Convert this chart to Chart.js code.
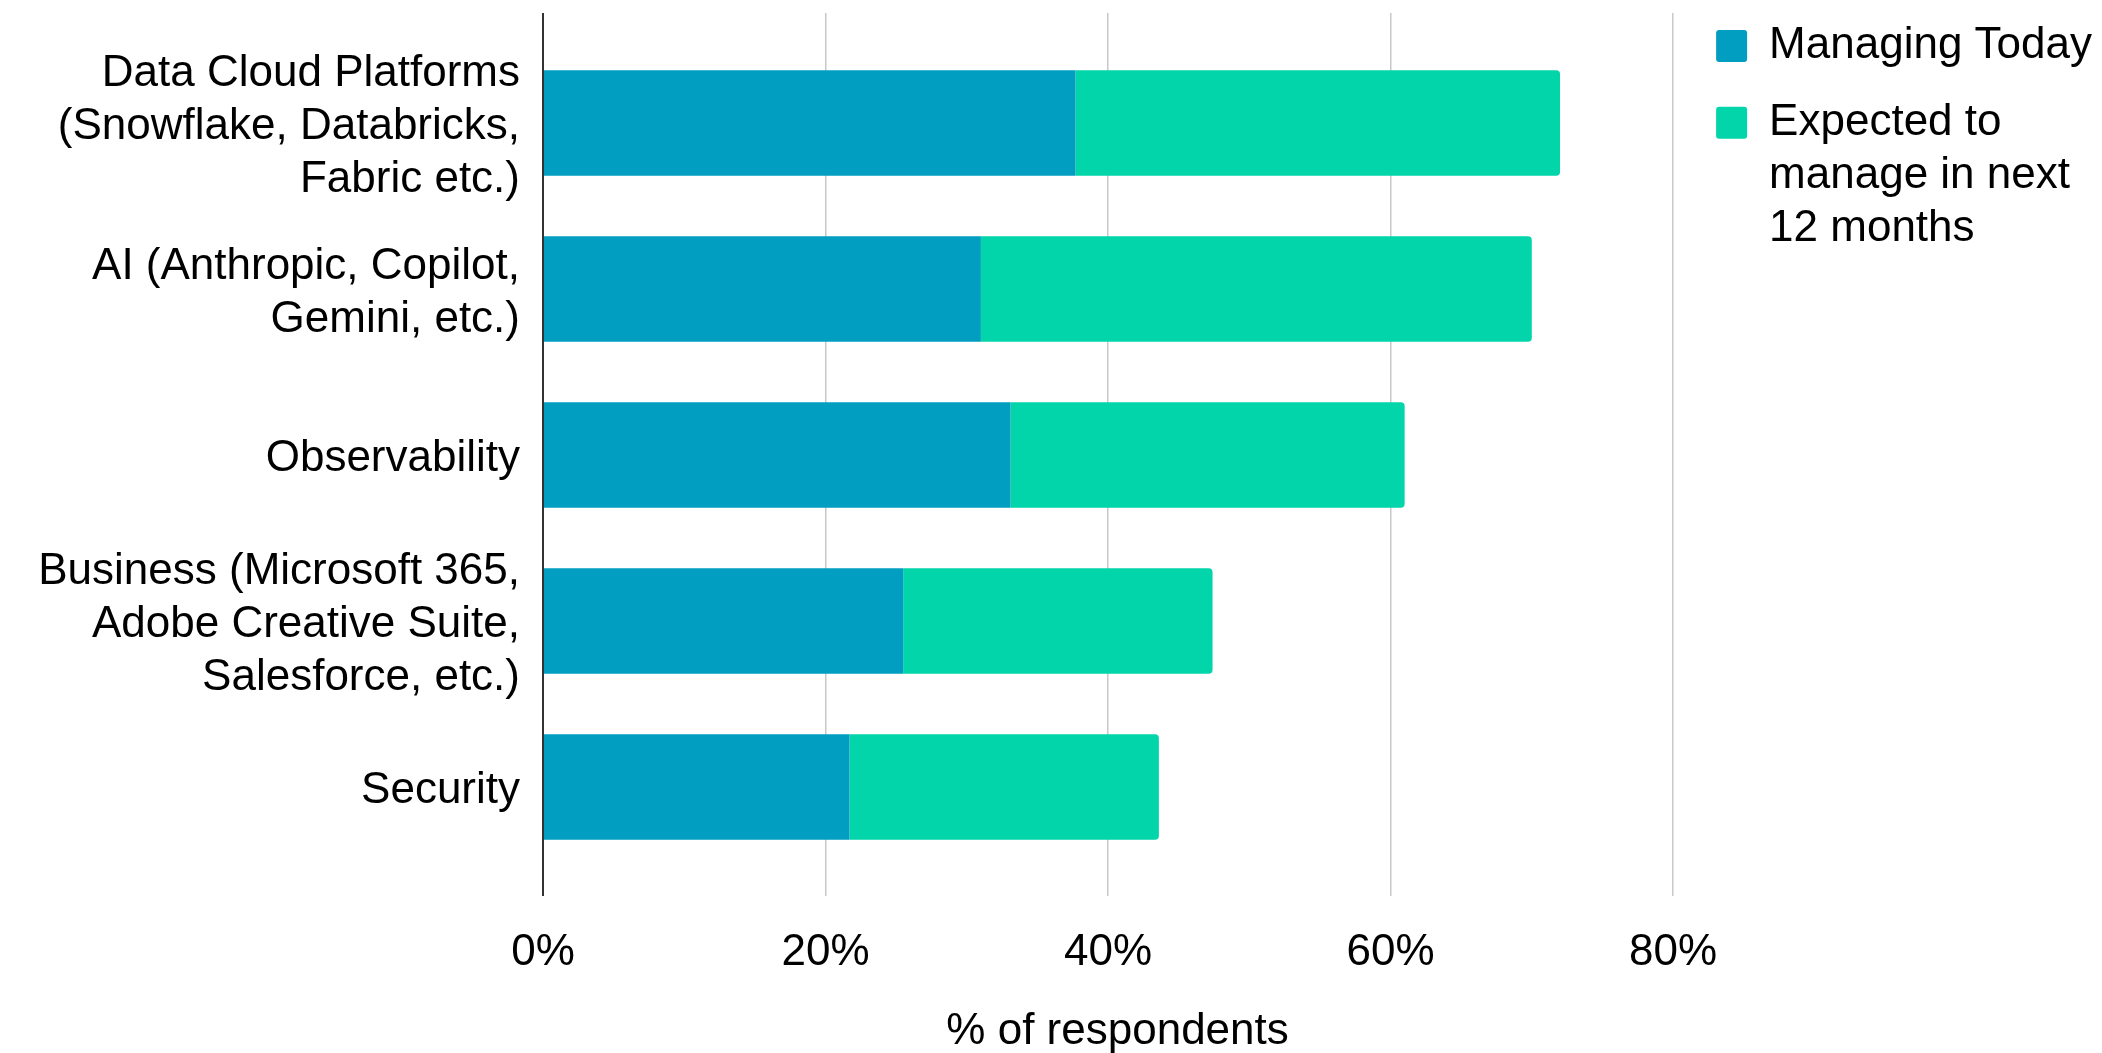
<!DOCTYPE html>
<html>
<head>
<meta charset="utf-8">
<script src="https://cdn.jsdelivr.net/npm/chart.js@4.4.1/dist/chart.umd.min.js"></script>
<style>
  html, body { margin: 0; padding: 0; background: #ffffff; }
  #wrap { width: 2102px; height: 1053px; }
</style>
</head>
<body>
<div id="wrap"><canvas id="c" width="2102" height="1053"></canvas></div>
<script>
// ---- data ----
const categories = [
  ['Data Cloud Platforms', '(Snowflake, Databricks,', 'Fabric etc.)'],
  ['AI (Anthropic, Copilot,', 'Gemini, etc.)'],
  'Observability',
  ['Business (Microsoft 365,', 'Adobe Creative Suite,', 'Salesforce, etc.)'],
  'Security'
];
const seriesNames = ['Managing Today', 'Expected to manage in next 12 months'];
const legendLines = [['Managing Today'], ['Expected to', 'manage in next', '12 months']];
const managingToday = [37.7, 31.0, 33.1, 25.5, 21.7];
const expectedNext12 = [34.3, 39.0, 27.9, 21.9, 21.9];
const xTickValues = [0, 20, 40, 60, 80];
const xAxisTitle = '% of respondents';

// ---- styles ----
const FONT = "'Liberation Sans', Arial, Helvetica, sans-serif";
const TEXT = '#000000';
const BLUE = '#029EC1';
const GREEN = '#02D5AA';
const GRID = '#c8c8c8';
const AXIS = '#333333';

const gridColor = (c) => (c.tick && c.tick.value === 0) ? AXIS : GRID;
const gridWidth = (c) => (c.tick && c.tick.value === 0) ? 2 : 1.5;

const xCommon = {
  type: 'linear',
  min: 0,
  max: 81.35
};

new Chart(document.getElementById('c'), {
  type: 'bar',
  data: {
    labels: categories,
    datasets: [
      { label: seriesNames[0], data: managingToday, backgroundColor: BLUE, borderWidth: 0, borderRadius: 4 },
      { label: seriesNames[1], data: expectedNext12, backgroundColor: GREEN, borderWidth: 0, borderRadius: 4 }
    ]
  },
  options: {
    responsive: false,
    animation: false,
    devicePixelRatio: 1,
    indexAxis: 'y',
    layout: { padding: { top: 0, left: 0, right: 0, bottom: 0 } },
    datasets: { bar: { barPercentage: 0.636, categoryPercentage: 1 } },
    scales: {
      x: {
        ...xCommon,
        position: 'bottom',
        stacked: true,
        border: { display: false },
        grid: { color: gridColor, lineWidth: gridWidth, drawTicks: true, tickLength: 26 },
        afterBuildTicks: (s) => { s.ticks = xTickValues.map(v => ({ value: v })); },
        ticks: {
          padding: 30,
          color: TEXT,
          font: { family: FONT, size: 44 },
          callback: (v) => v + '%'
        },
        title: {
          display: true,
          text: xAxisTitle,
          color: TEXT,
          font: { family: FONT, size: 44, lineHeight: 1.0 },
          padding: { top: 0, bottom: -1 }
        },
        afterFit: (s) => { s.height = 183; }
      },
      x2: {
        ...xCommon,
        position: 'top',
        afterBuildTicks: (s) => { s.ticks = xTickValues.map(v => ({ value: v })); },
        border: { display: false },
        grid: { color: gridColor, lineWidth: gridWidth, drawOnChartArea: false, drawTicks: true, tickLength: 27 },
        ticks: { display: false },
        afterFit: (s) => { s.height = 40; }
      },
      y: {
        stacked: true,
        grid: { display: false, drawTicks: true, tickLength: 20 },
        border: { display: true, color: AXIS, width: 2 },
        ticks: {
          padding: 3,
          labelOffset: 4,
          color: TEXT,
          font: { family: FONT, size: 44, lineHeight: 1.2 }
        },
        afterFit: (s) => { s.width = 543; s.paddingTop = 0; s.paddingBottom = 0; }
      }
    },
    plugins: {
      tooltip: { enabled: false },
      legend: {
        position: 'right',
        align: 'start',
        labels: {
          boxWidth: 31,
          boxHeight: 32,
          padding: 24,
          color: TEXT,
          font: { family: FONT, size: 44, lineHeight: 1.2 },
          useBorderRadius: true,
          borderRadius: 3,
          generateLabels: (chart) => {
            const items = Chart.defaults.plugins.legend.labels.generateLabels(chart);
            items.forEach((it, i) => { it.text = legendLines[i]; it.lineWidth = 0; });
            return items;
          }
        }
      }
    }
  }
});
</script>
</body>
</html>
